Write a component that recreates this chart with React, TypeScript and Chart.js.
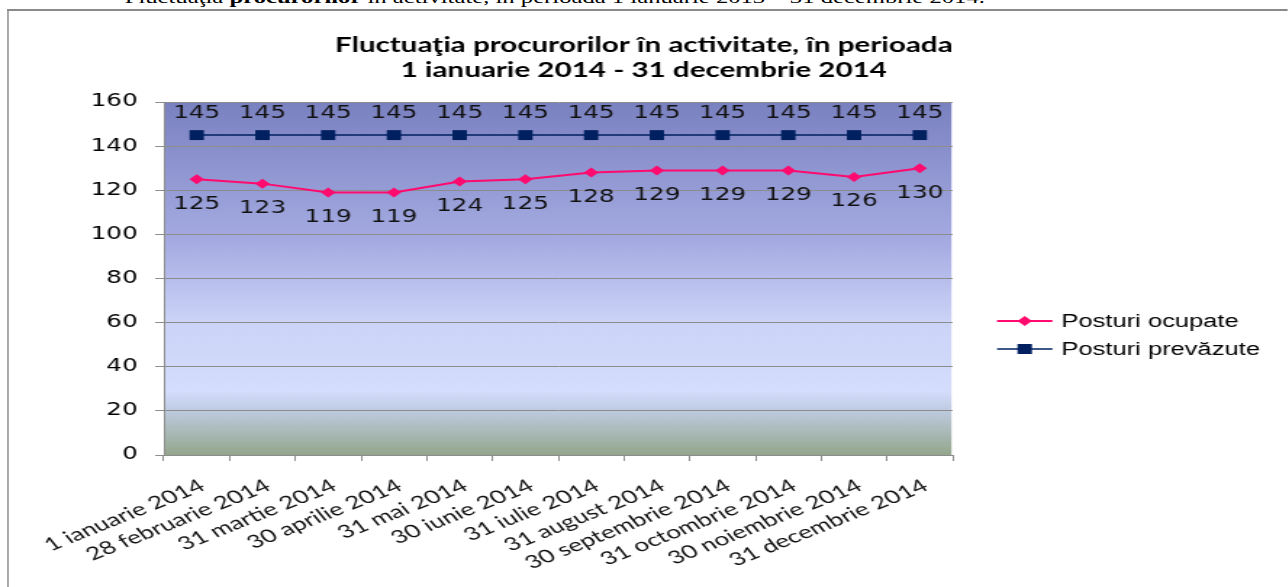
import React, { useEffect, useRef } from 'react';
import { Chart, registerables } from 'chart.js';

Chart.register(...registerables);

// ---- data ----
const categories: string[] = [
  '1 ianuarie 2014',
  '28 februarie 2014',
  '31 martie 2014',
  '30 aprilie 2014',
  '31 mai 2014',
  '30 iunie 2014',
  '31 iulie 2014',
  '31 august 2014',
  '30 septembrie 2014',
  '31 octombrie 2014',
  '30 noiembrie 2014',
  '31 decembrie 2014',
];
const posturiOcupate: number[] = [125, 123, 119, 119, 124, 125, 128, 129, 129, 129, 126, 130];
const posturiPrevazute: number[] = [145, 145, 145, 145, 145, 145, 145, 145, 145, 145, 145, 145];
const seriesNames: string[] = ['Posturi ocupate', 'Posturi prevăzute'];
const titleLines: string[] = [
  'Fluctuaţia procurorilor în activitate, în perioada',
  '1 ianuarie 2014 - 31 decembrie 2014',
];
const yMin = 0;
const yMax = 160;
const yStep = 20;

// ---- layout / style ----
const S = 1.45; // horizontal stretch of the whole picture
const W = Math.round(1288 / S);
const H = 587;
const PINK = '#ff0a6e';
const NAVY = '#002060';
const GRID = '#8c8c8c';

export default function App() {
  const ref = useRef<HTMLCanvasElement | null>(null);

  useEffect(() => {
    const canvas = ref.current;
    if (!canvas) return;

    const decor = {
      id: 'decor',
      beforeDraw(chart: any) {
        const { ctx, chartArea: a } = chart;
        const g = ctx.createLinearGradient(0, a.top, 0, a.bottom);
        g.addColorStop(0, '#7a81c0');
        g.addColorStop(0.4, '#a6ace2');
        g.addColorStop(0.62, '#cbd3f7');
        g.addColorStop(0.82, '#d4ddfc');
        g.addColorStop(0.87, '#c0cce3');
        g.addColorStop(1, '#93a68b');
        ctx.save();
        ctx.fillStyle = g;
        ctx.fillRect(a.left, a.top, a.right - a.left, a.bottom - a.top);
        ctx.strokeStyle = 'rgba(255,255,255,0.8)';
        ctx.lineWidth = 1;
        ctx.beginPath();
        ctx.moveTo(a.left, a.top + 0.5);
        ctx.lineTo(a.right - 0.5, a.top + 0.5);
        ctx.lineTo(a.right - 0.5, a.bottom);
        ctx.stroke();
        ctx.restore();
      },
      afterDatasetsDraw(chart: any) {
        const { ctx } = chart;
        ctx.save();
        ctx.font = '17px "DejaVu Sans"';
        ctx.fillStyle = '#111';
        ctx.textAlign = 'center';
        ctx.textBaseline = 'middle';
        const m0 = chart.getDatasetMeta(0);
        const m1 = chart.getDatasetMeta(1);
        m0.data.forEach((p: any, i: number) => {
          ctx.fillText(String(posturiOcupate[i]), p.x, p.y + 25);
        });
        m1.data.forEach((p: any, i: number) => {
          ctx.fillText(String(posturiPrevazute[i]), p.x, p.y - 22);
        });
        ctx.restore();
      },
      afterDraw(chart: any) {
        const { ctx } = chart;
        ctx.save();
        // title
        ctx.font = 'bold 20px Lato';
        ctx.fillStyle = '#000';
        ctx.textAlign = 'center';
        ctx.textBaseline = 'middle';
        const k = 426 / ctx.measureText(titleLines[0]).width;
        const cx = W / 2;
        const ys = [46, 71];
        titleLines.forEach((t, i) => {
          ctx.save();
          ctx.translate(cx, ys[i]);
          ctx.scale(k, 1);
          ctx.fillText(t, 0, 0);
          ctx.restore();
        });
        // legend
        const lx0 = 687.6;
        const lx1 = 725.8;
        const lxm = (lx0 + lx1) / 2;
        const rows = [321, 349];
        const colors = [PINK, NAVY];
        const widths = [2, 1.5];
        ctx.font = '17.6px "Liberation Sans"';
        ctx.textAlign = 'left';
        rows.forEach((y, i) => {
          ctx.strokeStyle = colors[i];
          ctx.lineWidth = widths[i];
          ctx.beginPath();
          ctx.moveTo(lx0, y);
          ctx.lineTo(lx1, y);
          ctx.stroke();
          ctx.fillStyle = colors[i];
          ctx.beginPath();
          if (i === 0) {
            ctx.moveTo(lxm, y - 5);
            ctx.lineTo(lxm + 5, y);
            ctx.lineTo(lxm, y + 5);
            ctx.lineTo(lxm - 5, y);
            ctx.closePath();
          } else {
            ctx.rect(lxm - 5, y - 5, 10, 10);
          }
          ctx.fill();
          ctx.fillStyle = '#000';
          ctx.fillText(seriesNames[i], 732, y + 1);
        });
        ctx.restore();
      },
    };

    const chart = new Chart(canvas, {
      type: 'line',
      data: {
        labels: categories,
        datasets: [
          {
            label: seriesNames[0],
            data: posturiOcupate,
            borderColor: PINK,
            backgroundColor: PINK,
            borderWidth: 2,
            pointStyle: 'rectRot',
            pointRadius: 5,
            pointBorderWidth: 0,
            tension: 0,
          },
          {
            label: seriesNames[1],
            data: posturiPrevazute,
            borderColor: NAVY,
            backgroundColor: NAVY,
            borderWidth: 1.5,
            pointStyle: 'rect',
            pointRadius: 7,
            pointBorderWidth: 0,
            tension: 0,
          },
        ],
      },
      options: {
        responsive: false,
        animation: false,
        devicePixelRatio: 1,
        layout: { padding: { left: 0, top: 102, right: W - 657, bottom: 0 } },
        plugins: {
          legend: { display: false },
          title: { display: false },
          tooltip: { enabled: false },
        },
        scales: {
          x: {
            type: 'category',
            offset: true,
            grid: {
              offset: true,
              drawOnChartArea: false,
              color: GRID,
              tickLength: 6,
            },
            border: { color: GRID, width: 1 },
            ticks: {
              autoSkip: false,
              maxRotation: 30,
              minRotation: 30,
              padding: 14,
              labelOffset: 4,
              color: '#111',
              font: { family: 'Lato', size: 18 },
            },
            afterFit: (s: any) => {
              s.height = H - 455;
            },
          },
          y: {
            min: yMin,
            max: yMax,
            ticks: {
              stepSize: yStep,
              padding: 12,
              color: '#000',
              font: { family: '"DejaVu Sans"', size: 17 },
            },
            grid: { color: GRID, tickLength: 6 },
            border: { color: GRID, width: 1 },
            afterFit: (s: any) => {
              s.width = 113;
            },
          },
        },
      },
      plugins: [decor],
    } as any);

    return () => chart.destroy();
  }, []);

  return (
    <div
      style={{
        position: 'fixed',
        left: 0,
        top: 0,
        width: W,
        height: H,
        overflow: 'hidden',
        background: '#fff',
        transform: `scaleX(${S})`,
        transformOrigin: '0 0',
      }}
    >
      <div
        style={{
          position: 'absolute',
          left: 86,
          top: -11,
          whiteSpace: 'nowrap',
          fontFamily: '"Liberation Serif", "Times New Roman", serif',
          fontSize: 17,
          lineHeight: '17px',
          color: '#000',
        }}
      >
        Fluctuaţia <b>procurorilor</b> în activitate, în perioada 1 ianuarie 2013 – 31 decembrie 2014.
      </div>
      <div
        style={{
          position: 'absolute',
          left: 5,
          top: 9,
          width: W,
          height: H,
          borderLeft: '1.4px solid #8a8a8a',
          borderTop: '2px solid #8a8a8a',
        }}
      />
      <canvas ref={ref} width={W} height={H} style={{ position: 'absolute', left: 0, top: 0, display: 'block' }} />
    </div>
  );
}
